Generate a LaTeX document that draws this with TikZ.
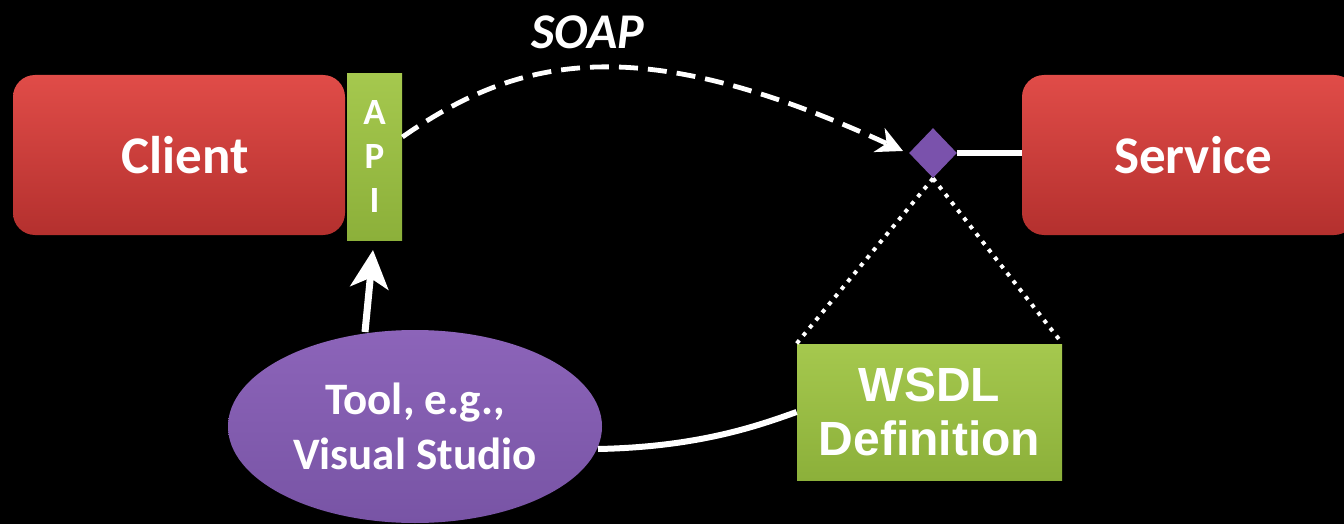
\documentclass[tikz,border=0pt]{standalone}
\usepackage{fontspec}
\newfontfamily\carlito{Carlito}
\newfontfamily\arialish{Liberation Sans}
\usetikzlibrary{arrows.meta,shapes.geometric}
\definecolor{redtop}{RGB}{224,76,72}
\definecolor{redbot}{RGB}{180,48,46}
\definecolor{greentop}{RGB}{165,200,78}
\definecolor{greenbot}{RGB}{140,176,58}
\definecolor{purptop}{RGB}{140,100,185}
\definecolor{purpbot}{RGB}{120,84,165}
\definecolor{diam}{RGB}{122,82,172}
\tikzset{
  redbox/.style={rectangle, rounded corners=11pt, top color=redtop, bottom color=redbot,
    draw=none, text=white, font=\carlito\bfseries\fontsize{26.5}{30}\selectfont},
  greenbox/.style={rectangle, top color=greentop, bottom color=greenbot, draw=none, text=white},
  toolshape/.style={ellipse, top color=purptop, bottom color=purpbot, draw=none, text=white,
    align=center, font=\carlito\bfseries\fontsize{22.5}{27.5}\selectfont},
  joint/.style={diamond, fill=diam, draw=none, inner sep=0pt,
    minimum width=24pt, minimum height=25pt},
  wire/.style={white, line width=3pt},
  dotline/.style={white, line width=2pt, dash pattern=on 2pt off 3pt},
}
\begin{document}
\begin{tikzpicture}[x=0.5pt,y=-0.5pt]
  \fill[black] (0,0) rectangle (1344,524);
  \useasboundingbox (0,0) rectangle (1344,524);

  % boxes
  \node[redbox, minimum width=166pt, minimum height=80pt] (client) at (179,155) {\hspace*{6pt}Client};
  \node[greenbox, minimum width=27.5pt, minimum height=83pt, inner sep=0pt] (api) at (374.5,157) {};
  \node[text=white, font=\carlito\bfseries\fontsize{18.5}{22}\selectfont, align=center] at (api.center) {A\\P\\I};
  \node[redbox, minimum width=167pt, minimum height=80pt] (service) at (1189,155) {\hspace*{4pt}Service};
  \node[joint] (joint) at (933,153) {};
  \node[greenbox, minimum width=132.5pt, minimum height=68pt, align=center,
    font=\arialish\bfseries\fontsize{24}{27}\selectfont] (wsdl) at (929.5,412) {WSDL\\Definition};
  \node[toolshape, minimum width=187pt, minimum height=96.5pt, inner sep=0pt] (tool) at (415,426.5)
    {Tool, e.g.,\\Visual Studio};

  % SOAP call from the API to the service endpoint
  \node[text=white, font=\carlito\bfseries\itshape\fontsize{25}{28}\selectfont] (soap) at (588,32) {SOAP};
  \coordinate (arcstart) at (api.east |- 0,137);
  \coordinate (arcend) at (903,151);
  \draw[white, line width=2.4pt, dash pattern=on 9.5pt off 5pt,
        -{Stealth[length=13pt,width=13pt,inset=4pt]}]
    (arcstart) .. controls (520,55) and (640,30) .. (arcend);

  % endpoint to service
  \draw[wire] (joint.east) -- (service.west |- joint.east);

  % endpoint described by the WSDL
  \draw[dotline] (joint.south) -- (wsdl.north west);
  \draw[dotline] (joint.south) -- (wsdl.north east);

  % tool generates the API
  \coordinate (toolTop) at (365,332);
  \coordinate (apiBottom) at (373,250);
  \draw[white, line width=3.5pt, -{Stealth[length=19pt,width=19pt,inset=5pt]}]
    (toolTop) -- (apiBottom);

  % tool reads the WSDL
  \coordinate (toolRight) at (598,449);
  \draw[wire] (toolRight) .. controls (700,447) and (760,425) .. (wsdl.west);
\end{tikzpicture}
\end{document}
